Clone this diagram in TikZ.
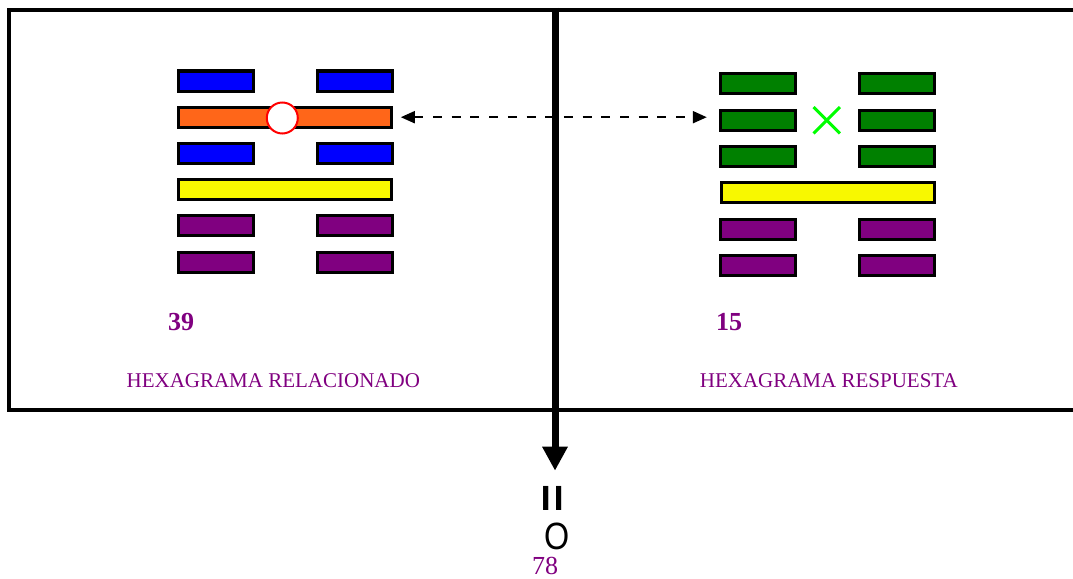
\documentclass[tikz,border=0pt]{standalone}
\usepackage{fontspec}
\setmainfont{Liberation Serif}
\newfontfamily\symsans{Liberation Sans}
\usetikzlibrary{arrows.meta}
\definecolor{hpurple}{HTML}{800080}
\definecolor{hblue}{HTML}{0000FF}
\definecolor{horange}{HTML}{FF6619}
\definecolor{hyellow}{HTML}{F8F800}
\definecolor{hgreen}{HTML}{008000}
\definecolor{hlime}{HTML}{00FF00}
\tikzset{
  bar/.style={draw=black, line width=3pt, minimum height=20pt, inner sep=0pt, outer sep=0pt},
  halfbar/.style={bar, minimum width=74.4pt},
  fullbar/.style={bar, minimum width=213pt},
  lbl/.style={text=hpurple, inner sep=0pt},
  frameline/.style={line width=4pt, line join=miter},
}
\begin{document}
\begin{tikzpicture}[x=1pt, y=-1pt]
\useasboundingbox (0,0) rectangle (1073,578);
% frame
\draw[frameline] (1073,10) -- (9,10) -- (9,409.5) -- (1073,409.5);
% left hexagram (39)
\node[halfbar, fill=hblue] (l1a) at (216,81) {};
\node[halfbar, fill=hblue] (l1b) at (355,81) {};
\node[fullbar, fill=horange] (l2) at (285.3,117.2) {};
\node[halfbar, fill=hblue] (l3a) at (216,153.4) {};
\node[halfbar, fill=hblue] (l3b) at (355,153.4) {};
\node[fullbar, fill=hyellow] (l4) at (285.3,189.6) {};
\node[halfbar, fill=hpurple] (l5a) at (216,225.8) {};
\node[halfbar, fill=hpurple] (l5b) at (355,225.8) {};
\node[halfbar, fill=hpurple] (l6a) at (216,262) {};
\node[halfbar, fill=hpurple] (l6b) at (355,262) {};
\node[circle, draw=red, line width=2pt, fill=white, minimum size=31pt, inner sep=0pt] (mov) at (282.3,118) {};
% right hexagram (15)
\node[halfbar, fill=hgreen] (r1a) at (758,83.8) {};
\node[halfbar, fill=hgreen] (r1b) at (897,83.8) {};
\node[halfbar, fill=hgreen] (r2a) at (758,120.1) {};
\node[halfbar, fill=hgreen] (r2b) at (897,120.1) {};
\node[halfbar, fill=hgreen] (r3a) at (758,156.4) {};
\node[halfbar, fill=hgreen] (r3b) at (897,156.4) {};
\node[fullbar, fill=hyellow] (r4) at (827.5,192.7) {};
\node[halfbar, fill=hpurple] (r5a) at (758,229) {};
\node[halfbar, fill=hpurple] (r5b) at (897,229) {};
\node[halfbar, fill=hpurple] (r6a) at (758,265.3) {};
\node[halfbar, fill=hpurple] (r6b) at (897,265.3) {};
\node[minimum size=26pt, inner sep=0pt] (cross) at (826.7,120.3) {};
\draw[hlime, line width=3pt] (cross.north west) -- (cross.south east);
\draw[hlime, line width=3pt] (cross.north east) -- (cross.south west);
% dashed double arrow
\draw[line width=2pt, dash pattern=on 9pt off 9.7pt, {Triangle[length=14pt,width=12pt]}-{Triangle[length=14pt,width=12pt]}, shorten <=9pt, shorten >=14pt] (l2.east) -- (r2a.west |- l2.east);
% labels
\node[lbl, font=\fontsize{26}{30}\selectfont\bfseries] (n39) at (181,321.7) {39};
\node[lbl, font=\fontsize{26}{30}\selectfont\bfseries] (n15) at (729,321.7) {15};
\node[lbl, font=\fontsize{21}{25}\selectfont] (t1) at (273.3,381) {HEXAGRAMA RELACIONADO};
\node[lbl, font=\fontsize{21}{25}\selectfont] (t2) at (828.8,381) {HEXAGRAMA RESPUESTA};
% vertical arrow and result
\coordinate (vtop) at (555,8);
\coordinate (vtip) at (555,470.7);
\draw[line width=7pt, -{Triangle[length=24pt,width=24pt]}] (vtop) -- (vtip);
\node[inner sep=0pt, rotate=90, font=\symsans\bfseries\fontsize{48}{52}\selectfont] (eq) at (556,498.6) {=};
\node[inner sep=0pt, xscale=0.85, font=\symsans\fontsize{38}{42}\selectfont] (zero) at (556.7,536) {O};
\node[lbl, font=\fontsize{26}{30}\selectfont] (n78) at (545,565.5) {78};
\end{tikzpicture}
\end{document}
